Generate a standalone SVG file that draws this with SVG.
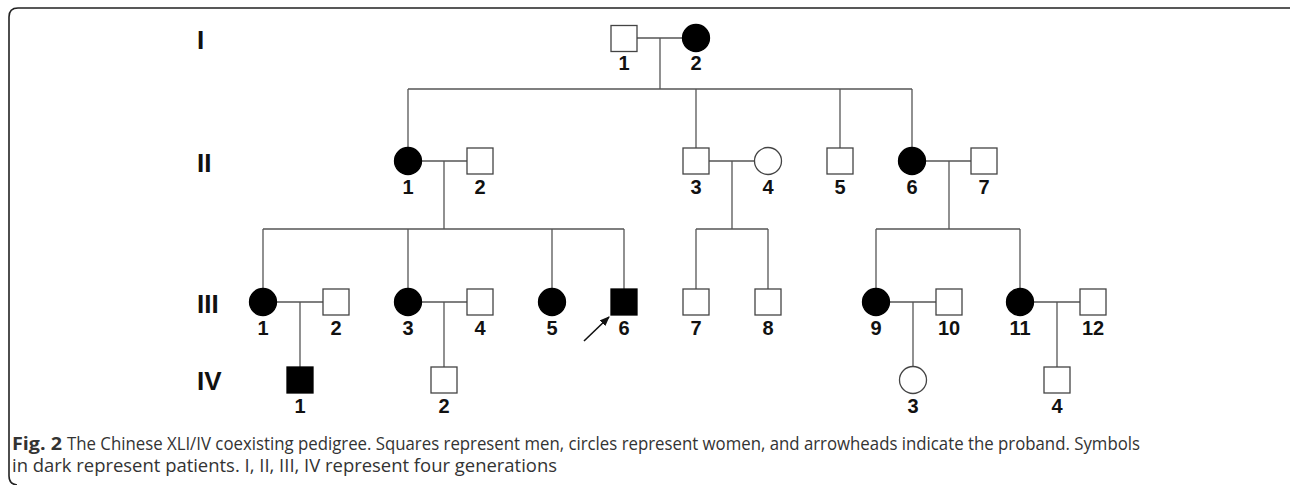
<svg xmlns="http://www.w3.org/2000/svg" width="1290" height="485" viewBox="0 0 1290 485">
<style>
.ln{stroke:#555;stroke-width:1.3;fill:none}
.sym{stroke:#444;stroke-width:1.3;fill:#fff}
.aff{stroke:#000;stroke-width:1.3;fill:#000}
.lbl{font-family:"Liberation Sans",Arial,sans-serif;font-weight:bold;font-size:20px;fill:#111;text-anchor:middle}
.gen{font-family:"Liberation Sans",Arial,sans-serif;font-weight:bold;font-size:26px;fill:#111}
.cap{font-family:"Open Sans","Liberation Sans",Arial,sans-serif;font-size:18px;fill:#333}
</style>
<defs>
<marker id="ah" markerWidth="10" markerHeight="8" refX="9" refY="4" orient="auto" markerUnits="userSpaceOnUse">
<path d="M0,0 L10,4 L0,8 Z" fill="#111"/>
</marker>
</defs>
<rect width="1290" height="485" fill="#fff"/>
<path d="M1290,8 H18 Q9,8 9,17 V476 Q9,484 17,485" fill="none" stroke="#222" stroke-width="1.6"/>

<g id="generation-labels">
<text class="gen" x="197" y="49">I</text>
<text class="gen" x="197" y="172">II</text>
<text class="gen" x="197" y="313">III</text>
<text class="gen" x="197" y="390">IV</text>
</g>

<g id="connectors">
<line class="ln" x1="637" y1="38" x2="682.5" y2="38"/>
<line class="ln" x1="660" y1="38" x2="660" y2="89"/>
<line class="ln" x1="408" y1="89" x2="912" y2="89"/>
<line class="ln" x1="408" y1="89" x2="408" y2="147.5"/>
<line class="ln" x1="696" y1="89" x2="696" y2="148"/>
<line class="ln" x1="840" y1="89" x2="840" y2="148"/>
<line class="ln" x1="912" y1="89" x2="912" y2="147.5"/>
<line class="ln" x1="421.5" y1="161" x2="467" y2="161"/>
<line class="ln" x1="444" y1="161" x2="444" y2="229"/>
<line class="ln" x1="709" y1="161" x2="754.5" y2="161"/>
<line class="ln" x1="732" y1="161" x2="732" y2="229"/>
<line class="ln" x1="925.5" y1="161" x2="971" y2="161"/>
<line class="ln" x1="949" y1="161" x2="949" y2="229"/>
<line class="ln" x1="263" y1="229" x2="624" y2="229"/>
<line class="ln" x1="263" y1="229" x2="263" y2="288.5"/>
<line class="ln" x1="408" y1="229" x2="408" y2="288.5"/>
<line class="ln" x1="552" y1="229" x2="552" y2="288.5"/>
<line class="ln" x1="624" y1="229" x2="624" y2="289"/>
<line class="ln" x1="696" y1="229" x2="768" y2="229"/>
<line class="ln" x1="696" y1="229" x2="696" y2="289"/>
<line class="ln" x1="768" y1="229" x2="768" y2="289"/>
<line class="ln" x1="876" y1="229" x2="1020" y2="229"/>
<line class="ln" x1="876" y1="229" x2="876" y2="288.5"/>
<line class="ln" x1="1020" y1="229" x2="1020" y2="288.5"/>
<line class="ln" x1="276.5" y1="302" x2="323" y2="302"/>
<line class="ln" x1="300" y1="302" x2="300" y2="367"/>
<line class="ln" x1="421.5" y1="302" x2="467" y2="302"/>
<line class="ln" x1="444" y1="302" x2="444" y2="367"/>
<line class="ln" x1="889.5" y1="302" x2="936" y2="302"/>
<line class="ln" x1="913" y1="302" x2="913" y2="366.5"/>
<line class="ln" x1="1033.5" y1="302" x2="1080" y2="302"/>
<line class="ln" x1="1057" y1="302" x2="1057" y2="367"/>
<line x1="584" y1="341" x2="609" y2="317" stroke="#111" stroke-width="1.6" marker-end="url(#ah)"/>
</g>

<g id="I-1"><rect class="sym" x="611" y="25.5" width="26" height="26"/><text class="lbl" x="624" y="70">1</text></g>
<g id="I-2"><circle class="aff" cx="696" cy="38" r="13.5"/><text class="lbl" x="696" y="70">2</text></g>

<g id="II-1"><circle class="aff" cx="408" cy="161" r="13.5"/><text class="lbl" x="408" y="194">1</text></g>
<g id="II-2"><rect class="sym" x="467" y="148" width="26" height="26"/><text class="lbl" x="480" y="194">2</text></g>
<g id="II-3"><rect class="sym" x="683" y="148" width="26" height="26"/><text class="lbl" x="696" y="194">3</text></g>
<g id="II-4"><circle class="sym" cx="768" cy="161" r="13.5"/><text class="lbl" x="768" y="194">4</text></g>
<g id="II-5"><rect class="sym" x="827" y="148" width="26" height="26"/><text class="lbl" x="840" y="194">5</text></g>
<g id="II-6"><circle class="aff" cx="912" cy="161" r="13.5"/><text class="lbl" x="912" y="194">6</text></g>
<g id="II-7"><rect class="sym" x="971" y="148" width="26" height="26"/><text class="lbl" x="984" y="194">7</text></g>

<g id="III-1"><circle class="aff" cx="263" cy="302" r="13.5"/><text class="lbl" x="263" y="335">1</text></g>
<g id="III-2"><rect class="sym" x="323" y="289" width="26" height="26"/><text class="lbl" x="336" y="335">2</text></g>
<g id="III-3"><circle class="aff" cx="408" cy="302" r="13.5"/><text class="lbl" x="408" y="335">3</text></g>
<g id="III-4"><rect class="sym" x="467" y="289" width="26" height="26"/><text class="lbl" x="480" y="335">4</text></g>
<g id="III-5"><circle class="aff" cx="552" cy="302" r="13.5"/><text class="lbl" x="552" y="335">5</text></g>
<g id="III-6"><rect class="aff" x="611" y="289" width="26" height="26"/><text class="lbl" x="624" y="335">6</text></g>
<g id="III-7"><rect class="sym" x="683" y="289" width="26" height="26"/><text class="lbl" x="696" y="335">7</text></g>
<g id="III-8"><rect class="sym" x="755" y="289" width="26" height="26"/><text class="lbl" x="768" y="335">8</text></g>
<g id="III-9"><circle class="aff" cx="876" cy="302" r="13.5"/><text class="lbl" x="876" y="335">9</text></g>
<g id="III-10"><rect class="sym" x="936" y="289" width="26" height="26"/><text class="lbl" x="949" y="335">10</text></g>
<g id="III-11"><circle class="aff" cx="1020" cy="302" r="13.5"/><text class="lbl" x="1020" y="335">11</text></g>
<g id="III-12"><rect class="sym" x="1080" y="289" width="26" height="26"/><text class="lbl" x="1093" y="335">12</text></g>

<g id="IV-1"><rect class="aff" x="287" y="367" width="26" height="26"/><text class="lbl" x="300" y="413">1</text></g>
<g id="IV-2"><rect class="sym" x="431" y="367" width="26" height="26"/><text class="lbl" x="444" y="413">2</text></g>
<g id="IV-3"><circle class="sym" cx="913" cy="380" r="13.5"/><text class="lbl" x="913" y="413">3</text></g>
<g id="IV-4"><rect class="sym" x="1044" y="367" width="26" height="26"/><text class="lbl" x="1057" y="413">4</text></g>

<g id="caption">
<text class="cap" x="12" y="450" font-weight="bold" fill="#222" textLength="50" lengthAdjust="spacingAndGlyphs">Fig. 2</text>
<text class="cap" x="67" y="450" textLength="1073" lengthAdjust="spacingAndGlyphs">The Chinese XLI/IV coexisting pedigree. Squares represent men, circles represent women, and arrowheads indicate the proband. Symbols</text>
<text class="cap" x="12" y="472" textLength="545" lengthAdjust="spacingAndGlyphs">in dark represent patients. I, II, III, IV represent four generations</text>
</g>
</svg>
